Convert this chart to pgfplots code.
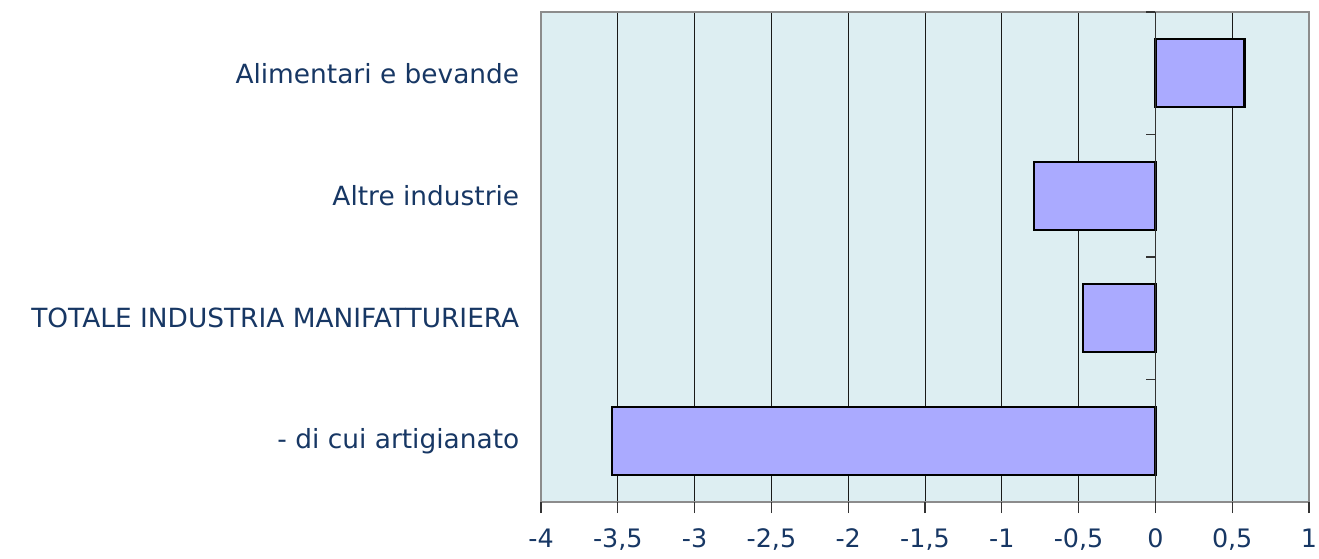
\documentclass[border=0pt]{standalone}
\usepackage{fontspec}
\setmainfont{DejaVu Sans}
\usepackage{pgfplots}
\pgfplotsset{compat=1.18}
\definecolor{txt}{RGB}{23,55,100}
\definecolor{bg}{RGB}{221,238,242}
\definecolor{barc}{RGB}{170,170,255}
\definecolor{frame}{RGB}{140,140,140}
\begin{document}
\begin{tikzpicture}
\begin{axis}[
  name=ax,
  scale only axis,
  width=768bp, height=490bp,
  xmin=-4, xmax=1, ymin=-0.5, ymax=3.5,
  xbar, bar width=68bp,
  axis background/.style={fill=bg},
  axis line style={draw=frame, line width=1.5bp},
  xtick={-4,-3.5,...,1},
  xtick pos=bottom,
  xtick style={draw=none},
  xmajorgrids, grid style={draw=black!90, line width=1bp},
  ytick={0,1,2,3},
  yticklabels={- di cui artigianato, TOTALE INDUSTRIA MANIFATTURIERA, Altre industrie, Alimentari e bevande},
  ytick style={draw=none},
  yticklabel style={xshift=-14bp, font=\fontsize{26.5}{30}\selectfont},
  ticklabel style={text=txt},
  xticklabel style={yshift=-23bp, font=\fontsize{25.5}{30}\selectfont},
  /pgf/number format/use comma,
  /pgf/number format/assume math mode=true,
  clip=false,
]
\addplot[fill=barc, draw=black, line width=2.2bp] coordinates {(-3.54,0) (-0.47,1) (-0.79,2) (0.58,3)};
\draw[black!80, line width=1.2bp] (axis cs:0,-0.5) -- (axis cs:0,3.5);
\pgfplotsinvokeforeach{0.5,1.5,2.5,3.5}{\draw[black!80, line width=1.2bp] ([xshift=-9bp]axis cs:0,#1) -- (axis cs:0,#1);}
\pgfplotsinvokeforeach{-4,-3.5,-3,-2.5,-2,-1.5,-1,-0.5,0,0.5,1}{\draw[black!80, line width=1.3bp] ([yshift=-11bp]axis cs:#1,-0.5) -- (axis cs:#1,-0.5);}
\end{axis}
\pgfresetboundingbox
\path ([xshift=-541bp,yshift=-56bp]ax.south west) rectangle ([xshift=10bp,yshift=12bp]ax.north east);
\end{tikzpicture}
\end{document}
